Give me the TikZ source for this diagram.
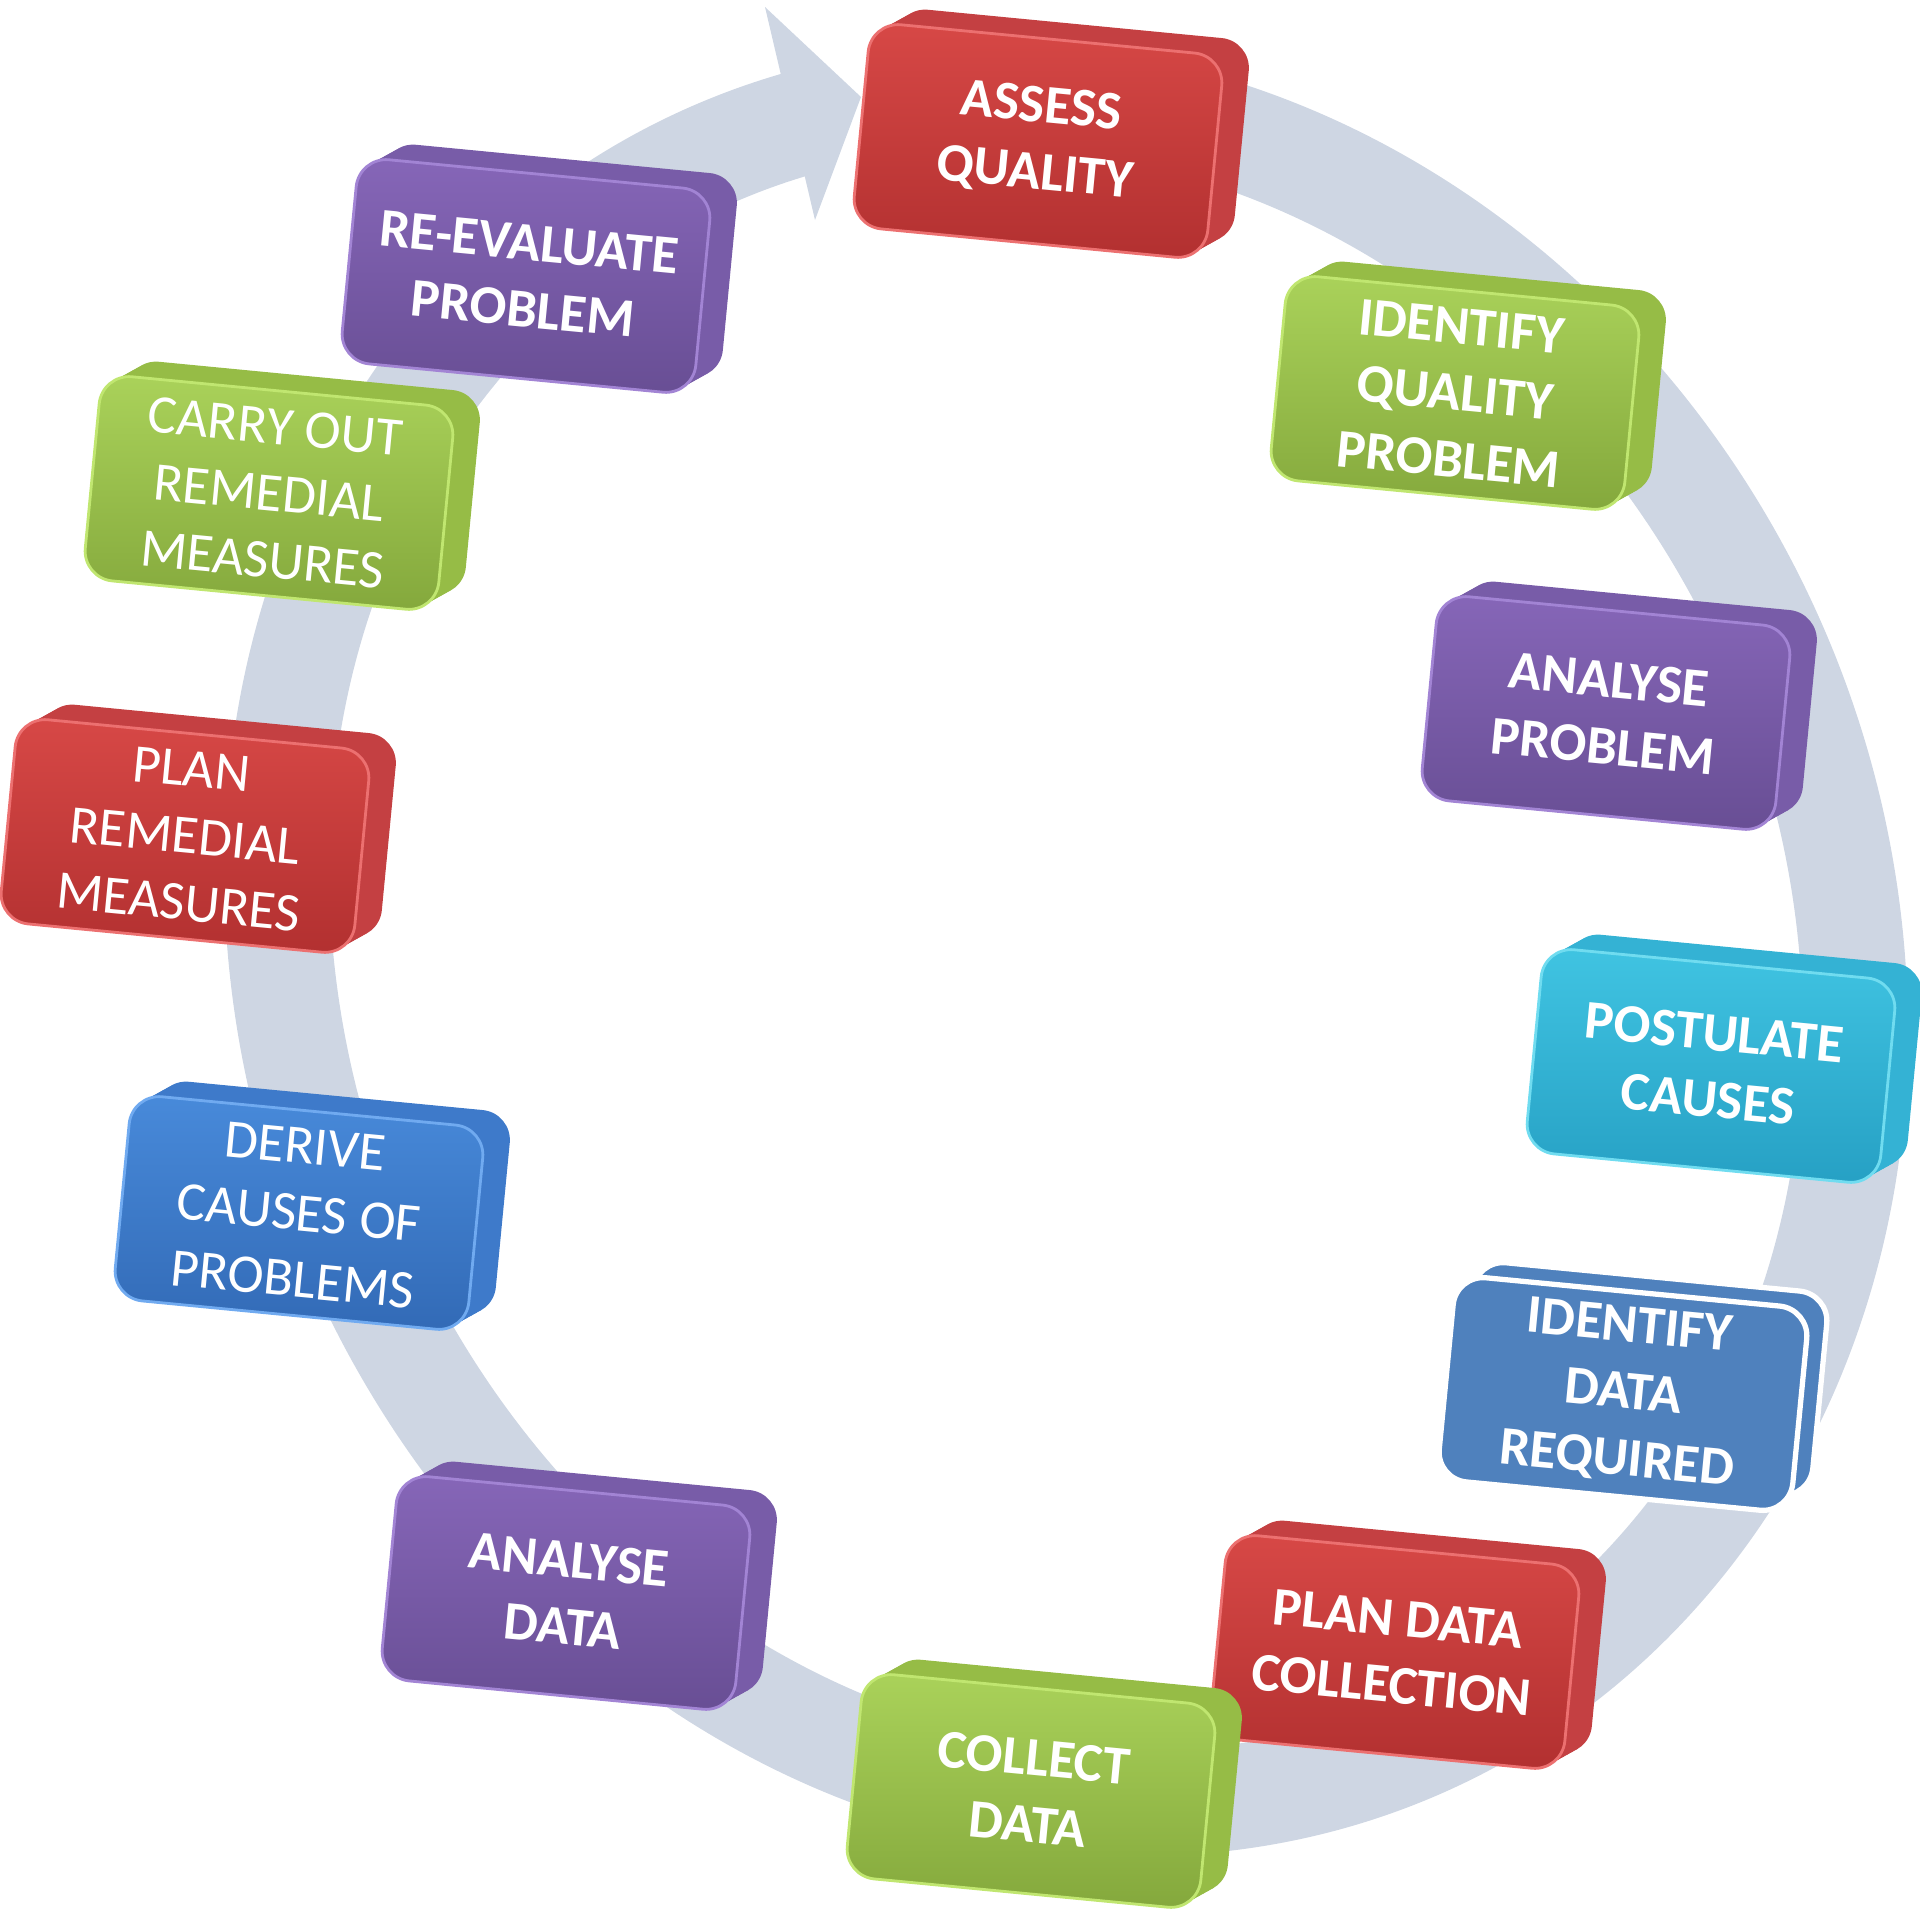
\documentclass[tikz,border=0pt]{standalone}
\usepackage{fontspec}
\setmainfont{Carlito}
\usetikzlibrary{shadows}

\definecolor{ringcol}{RGB}{206,214,227}
\definecolor{redtop}{RGB}{215,72,70}
\definecolor{redbot}{RGB}{178,48,48}
\definecolor{redside}{RGB}{196,64,66}
\definecolor{redline}{RGB}{236,112,112}
\definecolor{greentop}{RGB}{170,210,90}
\definecolor{greenbot}{RGB}{132,168,60}
\definecolor{greenside}{RGB}{150,188,70}
\definecolor{greenline}{RGB}{192,230,112}
\definecolor{purpletop}{RGB}{134,102,184}
\definecolor{purplebot}{RGB}{104,78,148}
\definecolor{purpleside}{RGB}{120,92,168}
\definecolor{purpleline}{RGB}{162,132,212}
\definecolor{cyantop}{RGB}{64,196,226}
\definecolor{cyanbot}{RGB}{38,160,196}
\definecolor{cyanside}{RGB}{52,178,212}
\definecolor{cyanline}{RGB}{112,220,240}
\definecolor{bluetop}{RGB}{72,138,218}
\definecolor{bluebot}{RGB}{50,106,182}
\definecolor{blueside}{RGB}{62,122,202}
\definecolor{blueline}{RGB}{112,170,240}
\definecolor{steel}{RGB}{79,129,189}

\begin{document}
\begin{tikzpicture}[x=0.01cm, y=-0.01cm,
  ring/.style={draw=ringcol, line width=1.05cm},
  extrude/.style={
    general shadow={fill=#1, shadow xshift=0.45mm, shadow yshift=0.25mm},
    general shadow={fill=#1, shadow xshift=0.9mm, shadow yshift=0.5mm},
    general shadow={fill=#1, shadow xshift=1.35mm, shadow yshift=0.75mm},
    general shadow={fill=#1, shadow xshift=1.8mm, shadow yshift=1mm},
    general shadow={fill=#1, shadow xshift=2.25mm, shadow yshift=1.25mm},
    general shadow={fill=#1, shadow xshift=2.7mm, shadow yshift=1.5mm}},
  stage/.style={rounded corners=0.3cm, minimum width=3.55cm, minimum height=2.05cm,
    rotate=-5.5, align=center, text=white, line width=0.8pt,
    font=\fontsize{15.5}{19}\selectfont\bfseries},
  plainfont/.style={font=\fontsize{15.5}{19}\selectfont},
  redbox/.style={stage, extrude=redside, top color=redtop, bottom color=redbot, draw=redline},
  greenbox/.style={stage, extrude=greenside, top color=greentop, bottom color=greenbot, draw=greenline},
  purplebox/.style={stage, extrude=purpleside, top color=purpletop, bottom color=purplebot, draw=purpleline},
  cyanbox/.style={stage, extrude=cyanside, top color=cyantop, bottom color=cyanbot, draw=cyanline},
  bluebox/.style={stage, extrude=blueside, top color=bluetop, bottom color=bluebot, draw=blueline},
  flatbox/.style={stage, fill=steel, draw=white, line width=1.5pt,
    general shadow={fill=steel, draw=white, line width=1.5pt, shadow xshift=2mm, shadow yshift=1.5mm}}
]
\useasboundingbox (0,0) rectangle (1920,1915);

% cycle ring
\begin{scope}[shift={(1066,950)}, rotate=115]
  \draw[ring] (-20:8.7cm and 7.7cm) arc[start angle=-20, end angle=-368, x radius=8.7cm, y radius=7.7cm];
\end{scope}
\fill[ringcol] (765,7) -- (815,220) -- (861,97) -- cycle;

% stages
\node[redbox] (assess) at (1038,141) {ASSESS\\QUALITY};
\node[greenbox] (idqual) at (1455,393) {IDENTIFY\\QUALITY\\PROBLEM};
\node[purplebox] (anprob) at (1606,713) {ANALYSE\\PROBLEM};
\node[cyanbox] (postul) at (1711,1066) {POSTULATE\\CAUSES};
\node[flatbox] (iddata) at (1623,1394) {IDENTIFY\\DATA\\REQUIRED};
\node[redbox] (plandata) at (1395,1652) {PLAN DATA\\COLLECTION};
\node[greenbox] (collect) at (1031,1791) {COLLECT\\DATA};
\node[purplebox] (andata) at (566,1593) {ANALYSE\\DATA};
\node[bluebox, plainfont] (derive) at (299,1213) {DERIVE\\CAUSES OF\\PROBLEMS};
\node[redbox, plainfont] (planrem) at (185,836) {PLAN\\REMEDIAL\\MEASURES};
\node[greenbox, plainfont] (carry) at (269,493) {CARRY OUT\\REMEDIAL\\MEASURES};
\node[purplebox] (reeval) at (526,276) {RE-EVALUATE\\PROBLEM};

\end{tikzpicture}
\end{document}
